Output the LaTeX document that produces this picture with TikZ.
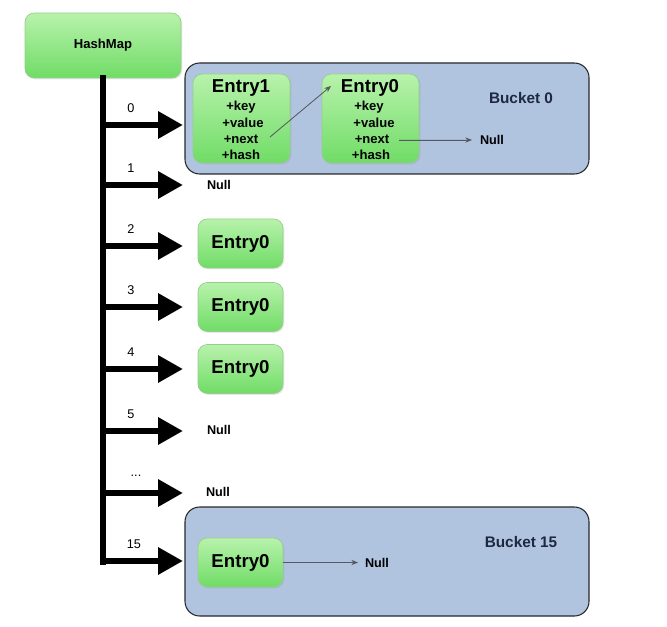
\documentclass[tikz,border=0pt]{standalone}
\usepackage{fontspec}
\setmainfont{Liberation Sans}
\usetikzlibrary{arrows.meta,shadows}
\definecolor{greentop}{RGB}{184,242,172}
\definecolor{greenbot}{RGB}{112,220,102}
\definecolor{greenedge}{RGB}{150,205,140}
\definecolor{bucketfill}{RGB}{176,196,224}
\definecolor{bucketedge}{RGB}{40,40,45}
\definecolor{bucketlabel}{RGB}{30,40,65}
\definecolor{linkgray}{RGB}{85,90,95}
\tikzset{
  greenbox/.style={draw=greenedge, line width=0.5pt, rounded corners=7pt,
    top color=greentop, bottom color=greenbot,
    drop shadow={opacity=0.18, shadow xshift=1pt, shadow yshift=-1pt},
    inner sep=0pt},
  smallentry/.style={greenbox, minimum width=63.75pt, minimum height=36.75pt,
    font=\bfseries\fontsize{14}{16}\selectfont},
  bucketbox/.style={draw=bucketedge, line width=0.8pt, fill=bucketfill,
    rounded corners=11pt, inner sep=0pt},
  title/.style={font=\bfseries\fontsize{14}{16}\selectfont, inner sep=0pt},
  field/.style={font=\bfseries\fontsize{9.8}{11}\selectfont, inner sep=0pt},
  nulltext/.style={font=\bfseries\fontsize{9.5}{11}\selectfont, inner sep=0pt},
  idx/.style={font=\fontsize{9.5}{11}\selectfont, inner sep=0pt},
  bucketname/.style={font=\bfseries\fontsize{11.5}{13}\selectfont, text=bucketlabel, inner sep=0pt},
  trunk/.style={line width=5pt, line cap=rect},
  branch/.style={line width=5pt, -{Triangle[length=18.75pt,width=19.5pt]}},
  link/.style={draw=linkgray, line width=0.6pt, -{Stealth[length=5pt,width=4pt]}, fill=linkgray},
}
\begin{document}
\begin{tikzpicture}[x=0.75pt,y=-0.75pt]
\useasboundingbox (0,0) rectangle (667,627);

% the map object
\node[greenbox, minimum width=117pt, minimum height=48.75pt,
  font=\bfseries\fontsize{9.8}{11}\selectfont] (hm) at (103,45.5) {HashMap};

% bucket 0 with a chain of two entries
\node[bucketbox, minimum width=303pt, minimum height=83.25pt] (b0) at (387,118.5) {};
\node[bucketname] (b0name) at (521,98) {Bucket 0};
\node[greenbox, minimum width=72.75pt, minimum height=66.75pt] (e1) at (241.5,118.5) {};
\node[title] (e1t) at (241,88) {Entry1};
\node[field] (e1k) at (241,107) {+key};
\node[field] (e1v) at (243,123) {+value};
\node[field] (e1n) at (241,139) {+next};
\node[field] (e1h) at (241,155) {+hash};
\node[greenbox, minimum width=72.75pt, minimum height=66.75pt] (e0) at (370.5,118.5) {};
\node[title] (e0t) at (370,88) {Entry0};
\node[field] (e0k) at (369,107) {+key};
\node[field] (e0v) at (374,123) {+value};
\node[field] (e0n) at (372,139) {+next};
\node[field] (e0h) at (371,155) {+hash};
\node[nulltext] (n0) at (492,140) {Null};
\coordinate (e1next) at (270,137);
\coordinate (e0in) at (331,86);
\coordinate (e0out) at (399,140);
\coordinate (n0in) at (472,140);
\draw[link] (e1next) -- (e0in);
\draw[link] (e0out) -- (n0in);

% single entries in buckets 2 to 4
\node[smallentry] (s2) at (240.5,243.5) {Entry0};
\node[smallentry] (s3) at (240.5,307) {Entry0};
\node[smallentry] (s4) at (240.5,369) {Entry0};

% empty buckets
\node[nulltext] (n1) at (219,185) {Null};
\node[nulltext] (n5) at (219,430) {Null};
\node[nulltext] (nd) at (218,492) {Null};

% bucket 15
\node[bucketbox, minimum width=303pt, minimum height=81.75pt] (b15) at (387,561.5) {};
\node[bucketname] (b15name) at (521,542) {Bucket 15};
\node[smallentry] (s15) at (240.5,562.5) {Entry0};
\node[nulltext] (n15) at (377,563) {Null};
\coordinate (n15in) at (358,562.5);
\draw[link] (s15.east) -- (n15in);

% spine and index arrows
\coordinate (spineend) at (103,562);
\draw[trunk] (hm.south) -- (spineend);
\foreach \name/\y/\lab/\lx in {0/125/0/131, 1/185/1/131, 2/246/2/131, 3/307/3/131,
    4/369/4/131, 5/431/5/131, d/493/{...}/136, 15/561/15/134} {
  \coordinate (r\name) at (103,\y);
  \coordinate (tip\name) at (183,\y);
  \draw[branch] (r\name) -- (tip\name);
  \node[idx] (lab\name) at (\lx,\y-17) {\lab};
}
\end{tikzpicture}
\end{document}
